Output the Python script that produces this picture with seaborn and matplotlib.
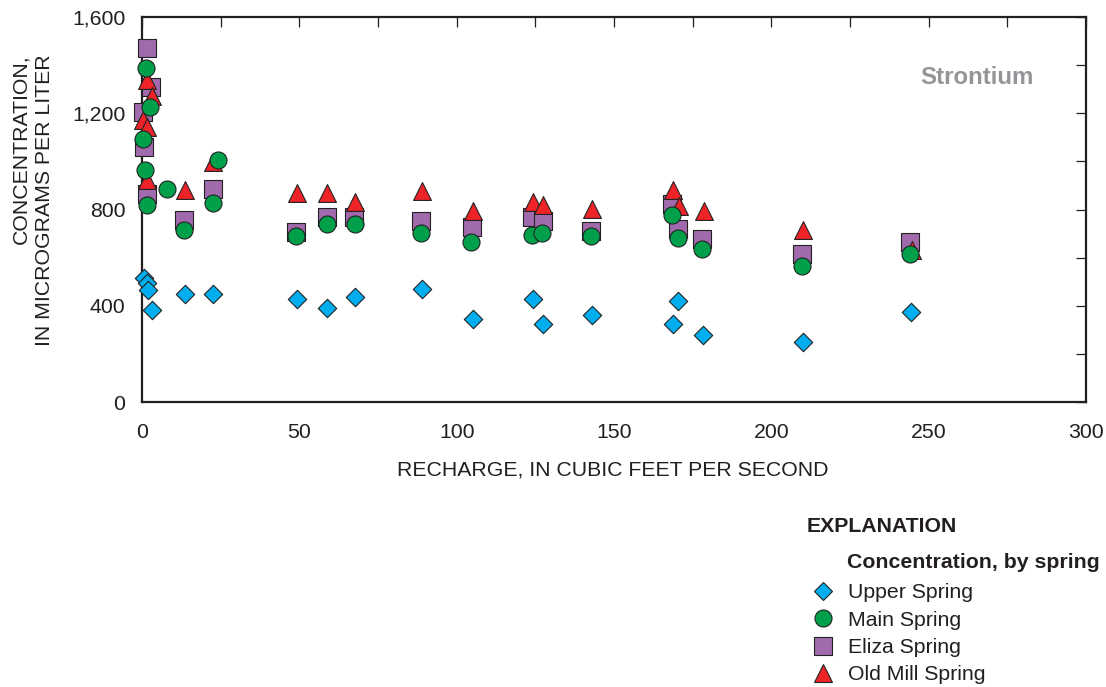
import matplotlib
matplotlib.use("Agg")
import matplotlib.pyplot as plt
from matplotlib.lines import Line2D
from matplotlib.ticker import MultipleLocator, FuncFormatter
import seaborn as sns
import pandas as pd

# ---- data (recharge, cfs ; strontium, ug/L) ----
upper_x = [0.5, 1.5, 1.8, 3.2, 13.7, 22.7, 49.2, 58.7, 67.8, 88.9, 105.1, 124.2, 127.3, 142.9,
           168.6, 170.4, 178.4, 210.2, 244.3]
upper_y = [514, 493, 464, 384, 448, 448, 427, 391, 437, 471, 346, 428, 326, 360,
           326, 420, 280, 249, 374]

main_x = [0.2, 1.0, 1.3, 1.5, 2.5, 7.8, 13.4, 22.5, 24.3, 48.9, 58.8, 67.8, 88.6, 104.7,
          123.9, 127.0, 142.6, 168.3, 170.2, 178.0, 209.8, 244.0]
main_y = [1095, 963, 1388, 818, 1226, 887, 714, 827, 1007, 689, 741, 739, 702, 665,
          696, 702, 689, 776, 682, 637, 564, 614]

eliza_x = [0.2, 0.7, 1.5, 1.5, 2.8, 13.4, 22.5, 49.0, 58.7, 67.5, 88.6, 104.8, 123.8, 127.3,
           142.6, 168.3, 170.2, 178.0, 209.8, 244.0]
eliza_y = [1205, 1060, 1471, 866, 1309, 755, 887, 707, 769, 769, 752, 727, 769, 752,
           711, 824, 718, 676, 614, 665]

oldmill_x = [0.2, 1.5, 1.5, 1.5, 3.1, 13.7, 22.5, 49.2, 58.7, 67.8, 88.9, 105.1, 124.2, 127.3,
             143.0, 168.6, 170.8, 178.5, 210.2, 244.6]
oldmill_y = [1171, 1143, 1337, 921, 1271, 880, 997, 869, 869, 833, 876, 794, 833, 818,
             802, 883, 816, 794, 714, 633]

series_names = ["Upper Spring", "Main Spring", "Eliza Spring", "Old Mill Spring"]
x_ticks = [0, 50, 100, 150, 200, 250, 300]
y_ticks = [0, 400, 800, 1200, 1600]

# ---- styles ----
colors = {"Upper Spring": "#00AEEF", "Main Spring": "#00A04A",
          "Eliza Spring": "#A06AAC", "Old Mill Spring": "#EE2328"}
markers = {"Upper Spring": "D", "Main Spring": "o", "Eliza Spring": "s", "Old Mill Spring": "^"}
sizes = {"Upper Spring": 88, "Main Spring": 150, "Eliza Spring": 150, "Old Mill Spring": 165}
zorders = {"Eliza Spring": 3, "Old Mill Spring": 4, "Main Spring": 5, "Upper Spring": 6}

data = {"Upper Spring": (upper_x, upper_y), "Main Spring": (main_x, main_y),
        "Eliza Spring": (eliza_x, eliza_y), "Old Mill Spring": (oldmill_x, oldmill_y)}

FS = 15.3
INK = "#231F20"

sns.set_theme(style="white")
plt.rcParams["font.family"] = ["Liberation Sans", "DejaVu Sans"]

fig = plt.figure(figsize=(11.06, 6.87), dpi=100)
ax = fig.add_axes([142 / 1106, 1 - 402 / 687, (1086 - 142) / 1106, (402 - 17) / 687])

for name in ["Eliza Spring", "Old Mill Spring", "Main Spring", "Upper Spring"]:
    xs, ys = data[name]
    df = pd.DataFrame({"x": xs, "y": ys})
    sns.scatterplot(data=df, x="x", y="y", ax=ax, marker=markers[name], s=sizes[name],
                    color=colors[name], edgecolor="#222222", linewidth=0.8,
                    clip_on=False, zorder=zorders[name], legend=False)

ax.set_xlim(0, 300)
ax.set_ylim(0, 1600)
ax.xaxis.set_major_locator(MultipleLocator(25))
ax.yaxis.set_major_locator(MultipleLocator(200))
ax.xaxis.set_major_formatter(FuncFormatter(lambda v, p: f"{int(v)}" if int(v) in x_ticks else ""))
ax.yaxis.set_major_formatter(FuncFormatter(lambda v, p: f"{int(v):,}" if int(v) in y_ticks else ""))
ax.tick_params(axis="both", which="major", direction="in", length=7, width=0.9,
               colors=INK, labelsize=FS, top=True, right=True, labelcolor=INK)
ax.tick_params(axis="x", pad=15)
ax.tick_params(axis="y", pad=12)
for sp in ax.spines.values():
    sp.set_linewidth(1.6)
    sp.set_color(INK)
    sp.set_zorder(2)
ax.set_xlabel("")
ax.set_ylabel("")

fig.text(613 / 1106, 1 - 470 / 687, "RECHARGE, IN CUBIC FEET PER SECOND",
         ha="center", va="center", fontsize=FS, color=INK)
fig.text(33 / 1106, 1 - 200 / 687, "CONCENTRATION,\nIN MICROGRAMS PER LITER",
         ha="center", va="center", rotation=90, multialignment="right",
         fontsize=FS, color=INK, linespacing=1.3)
fig.text(1034 / 1106, 1 - 77 / 687, "Strontium",
         ha="right", va="center", fontsize=17.3, fontweight="bold", color="#939598")

fig.text(807 / 1106, 1 - 527 / 687, "EXPLANATION", ha="left", va="center",
         fontsize=FS, fontweight="bold", color=INK)
fig.text(847 / 1106, 1 - 563 / 687, "Concentration, by spring", ha="left", va="center",
         fontsize=FS, fontweight="bold", color=INK)

legend_order = ["Upper Spring", "Main Spring", "Eliza Spring", "Old Mill Spring"]
handles = [Line2D([], [], linestyle="none", marker=markers[n], markersize=(sizes[n]) ** 0.5,
                  markerfacecolor=colors[n], markeredgecolor="#222222", markeredgewidth=0.8)
           for n in legend_order]
fig.legend(handles, legend_order, loc="upper left",
           bbox_to_anchor=(812 / 1106, 1 - 583 / 687), frameon=False,
           fontsize=FS, handlelength=1.0, handletextpad=0.7, labelspacing=0.40,
           borderpad=0, borderaxespad=0, labelcolor=INK)

fig.savefig("out.png", dpi=100, facecolor="white")
